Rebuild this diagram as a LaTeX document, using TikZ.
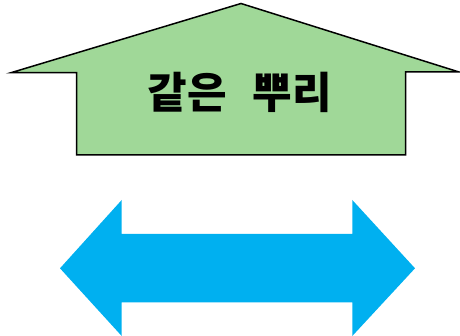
\documentclass[tikz,border=0pt]{standalone}
\usepackage{fontspec}
\newfontfamily\kr{Noto Sans CJK KR}
\definecolor{housegreen}{RGB}{160,216,152}
\definecolor{arrowblue}{RGB}{0,176,240}
\begin{document}
\begin{tikzpicture}[x=1pt,y=-1pt,
  house/.style={fill=housegreen,draw=black,line width=1.5pt,line join=miter},
  dblarrow/.style={fill=arrowblue,draw=none},
  label/.style={font=\kr\bfseries\fontsize{43}{50}\selectfont,inner sep=0pt}]
\useasboundingbox (0,0) rectangle (460,336);
% house-shaped pentagon
\draw[house] (241,3.5) -- (459,72) -- (405.7,72) -- (405.7,155) -- (76.7,155) -- (76.7,72.7) -- (11,72.7) -- cycle;
\node[label] (title) at (240,92) {같은\hspace{0.6em}뿌리};
% double arrow
\fill[dblarrow] (60,268.3) -- (121.7,200) -- (121.7,234) -- (352.3,234) -- (352.3,200) -- (415,268.3)
  -- (352.3,336) -- (352.3,302.3) -- (121.7,302.3) -- (121.7,336) -- cycle;
\end{tikzpicture}
\end{document}
